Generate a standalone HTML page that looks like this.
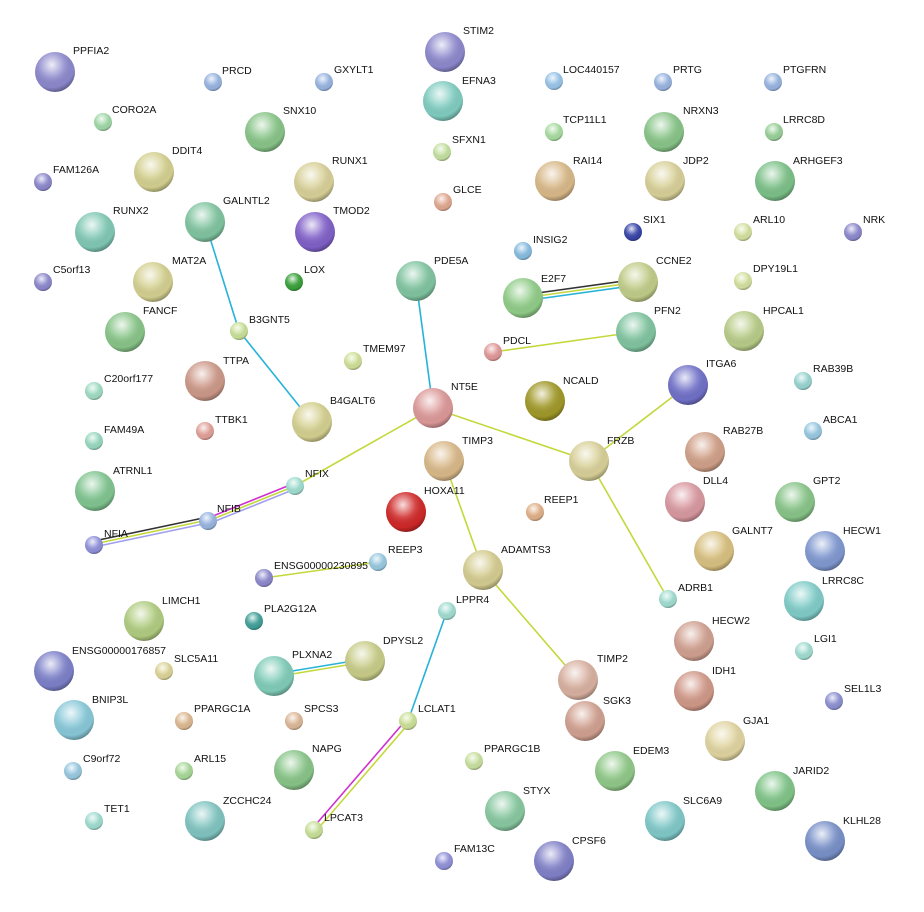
<!DOCTYPE html>
<html><head><meta charset="utf-8"><style>
html,body{margin:0;padding:0;background:#fff;}
svg text{font-family:"Liberation Sans",sans-serif;font-size:10.5px;fill:#111;}
</style></head><body>
<svg width="924" height="907" viewBox="0 0 924 907" xmlns="http://www.w3.org/2000/svg">
<defs>
<radialGradient id="s" cx="0.42" cy="0.32" r="0.7">
<stop offset="0" stop-color="#fff" stop-opacity="0.85"/>
<stop offset="0.45" stop-color="#fff" stop-opacity="0.15"/>
<stop offset="0.8" stop-color="#000" stop-opacity="0.02"/>
<stop offset="1" stop-color="#000" stop-opacity="0.35"/>
</radialGradient>
</defs>
<g fill="none" stroke-width="1.6">
<line x1="205" y1="222" x2="239" y2="331" stroke="#27b3d8"/>
<line x1="239" y1="331" x2="312" y2="422" stroke="#27b3d8"/>
<line x1="416" y1="281" x2="433" y2="408" stroke="#27b3d8"/>
<line x1="433" y1="408" x2="295" y2="486" stroke="#c4d83c"/>
<line x1="433" y1="408" x2="589" y2="461" stroke="#c4d83c"/>
<line x1="589" y1="461" x2="688" y2="385" stroke="#c4d83c"/>
<line x1="589" y1="461" x2="668" y2="599" stroke="#c4d83c"/>
<line x1="523" y1="295" x2="638" y2="279" stroke="#333"/>
<line x1="523" y1="298" x2="638" y2="282" stroke="#c4d83c"/>
<line x1="523" y1="301" x2="638" y2="285" stroke="#27b3d8"/>
<line x1="493" y1="352" x2="636" y2="332" stroke="#c4d83c"/>
<line x1="295" y1="483" x2="208" y2="518" stroke="#d030d0"/>
<line x1="295" y1="486" x2="208" y2="521" stroke="#c4d83c"/>
<line x1="295" y1="489" x2="208" y2="524" stroke="#a0a0f0"/>
<line x1="208" y1="517" x2="94" y2="541" stroke="#333"/>
<line x1="208" y1="520" x2="94" y2="544" stroke="#c4d83c"/>
<line x1="208" y1="523" x2="94" y2="547" stroke="#a0a0f0"/>
<line x1="444" y1="461" x2="483" y2="570" stroke="#c4d83c"/>
<line x1="483" y1="570" x2="578" y2="680" stroke="#c4d83c"/>
<line x1="264" y1="578" x2="378" y2="562" stroke="#c4d83c"/>
<line x1="447" y1="611" x2="408" y2="721" stroke="#27b3d8"/>
<line x1="406" y1="720" x2="312" y2="829" stroke="#d030d0"/>
<line x1="410" y1="722" x2="316" y2="831" stroke="#c4d83c"/>
<line x1="274" y1="674" x2="365" y2="659" stroke="#27b3d8"/>
<line x1="274" y1="677" x2="365" y2="662" stroke="#c4d83c"/>
</g>
<g id="nodes" stroke-width="0.6">
<!-- big r=20, small r=9 -->
<circle cx="55" cy="72" r="20" fill="#8c88cc"/><circle cx="55" cy="72" r="20" fill="url(#s)"/><text x="73" y="54">PPFIA2</text>
<circle cx="213" cy="82" r="9" fill="#98b4e0"/><circle cx="213" cy="82" r="9" fill="url(#s)"/><text x="222" y="74">PRCD</text>
<circle cx="324" cy="82" r="9" fill="#98b4e0"/><circle cx="324" cy="82" r="9" fill="url(#s)"/><text x="334" y="73">GXYLT1</text>
<circle cx="445" cy="52" r="20" fill="#8c88cc"/><circle cx="445" cy="52" r="20" fill="url(#s)"/><text x="463" y="34">STIM2</text>
<circle cx="443" cy="101" r="20" fill="#80ccc0"/><circle cx="443" cy="101" r="20" fill="url(#s)"/><text x="462" y="84">EFNA3</text>
<circle cx="554" cy="81" r="9" fill="#98c4e8"/><circle cx="554" cy="81" r="9" fill="url(#s)"/><text x="563" y="73">LOC440157</text>
<circle cx="663" cy="82" r="9" fill="#98b4e0"/><circle cx="663" cy="82" r="9" fill="url(#s)"/><text x="673" y="73">PRTG</text>
<circle cx="773" cy="82" r="9" fill="#98b4e0"/><circle cx="773" cy="82" r="9" fill="url(#s)"/><text x="783" y="73">PTGFRN</text>
<circle cx="103" cy="122" r="9" fill="#a0d8a8"/><circle cx="103" cy="122" r="9" fill="url(#s)"/><text x="112" y="113">CORO2A</text>
<circle cx="265" cy="132" r="20" fill="#88c488"/><circle cx="265" cy="132" r="20" fill="url(#s)"/><text x="283" y="114">SNX10</text>
<circle cx="554" cy="132" r="9" fill="#a8dca0"/><circle cx="554" cy="132" r="9" fill="url(#s)"/><text x="563" y="123">TCP11L1</text>
<circle cx="664" cy="132" r="20" fill="#88c488"/><circle cx="664" cy="132" r="20" fill="url(#s)"/><text x="683" y="114">NRXN3</text>
<circle cx="774" cy="132" r="9" fill="#98d098"/><circle cx="774" cy="132" r="9" fill="url(#s)"/><text x="783" y="123">LRRC8D</text>
<circle cx="154" cy="172" r="20" fill="#d4d090"/><circle cx="154" cy="172" r="20" fill="url(#s)"/><text x="172" y="154">DDIT4</text>
<circle cx="314" cy="182" r="20" fill="#d8d098"/><circle cx="314" cy="182" r="20" fill="url(#s)"/><text x="332" y="164">RUNX1</text>
<circle cx="442" cy="152" r="9" fill="#c4e0a0"/><circle cx="442" cy="152" r="9" fill="url(#s)"/><text x="452" y="143">SFXN1</text>
<circle cx="555" cy="181" r="20" fill="#d8b888"/><circle cx="555" cy="181" r="20" fill="url(#s)"/><text x="573" y="164">RAI14</text>
<circle cx="665" cy="181" r="20" fill="#d8d098"/><circle cx="665" cy="181" r="20" fill="url(#s)"/><text x="683" y="164">JDP2</text>
<circle cx="775" cy="181" r="20" fill="#7cc088"/><circle cx="775" cy="181" r="20" fill="url(#s)"/><text x="793" y="164">ARHGEF3</text>
<circle cx="43" cy="182" r="9" fill="#8c88cc"/><circle cx="43" cy="182" r="9" fill="url(#s)"/><text x="53" y="173">FAM126A</text>
<circle cx="443" cy="202" r="9" fill="#e0a890"/><circle cx="443" cy="202" r="9" fill="url(#s)"/><text x="453" y="193">GLCE</text>
<circle cx="315" cy="232" r="20" fill="#8060c8"/><circle cx="315" cy="232" r="20" fill="url(#s)"/><text x="333" y="214">TMOD2</text>
<circle cx="205" cy="222" r="20" fill="#80c4a0"/><circle cx="205" cy="222" r="20" fill="url(#s)"/><text x="223" y="204">GALNTL2</text>
<circle cx="95" cy="232" r="20" fill="#80c8b4"/><circle cx="95" cy="232" r="20" fill="url(#s)"/><text x="113" y="214">RUNX2</text>
<circle cx="633" cy="232" r="9" fill="#3844a8"/><circle cx="633" cy="232" r="9" fill="url(#s)"/><text x="643" y="223">SIX1</text>
<circle cx="743" cy="232" r="9" fill="#d4e0a0"/><circle cx="743" cy="232" r="9" fill="url(#s)"/><text x="753" y="223">ARL10</text>
<circle cx="853" cy="232" r="9" fill="#8c88cc"/><circle cx="853" cy="232" r="9" fill="url(#s)"/><text x="863" y="223">NRK</text>
<circle cx="523" cy="251" r="9" fill="#88bce0"/><circle cx="523" cy="251" r="9" fill="url(#s)"/><text x="533" y="243">INSIG2</text>
<circle cx="153" cy="282" r="20" fill="#d4d090"/><circle cx="153" cy="282" r="20" fill="url(#s)"/><text x="172" y="264">MAT2A</text>
<circle cx="294" cy="282" r="9" fill="#38a038"/><circle cx="294" cy="282" r="9" fill="url(#s)"/><text x="304" y="273">LOX</text>
<circle cx="43" cy="282" r="9" fill="#8c88cc"/><circle cx="43" cy="282" r="9" fill="url(#s)"/><text x="53" y="273">C5orf13</text>
<circle cx="416" cy="281" r="20" fill="#80c4a0"/><circle cx="416" cy="281" r="20" fill="url(#s)"/><text x="434" y="264">PDE5A</text>
<circle cx="523" cy="298" r="20" fill="#90cc88"/><circle cx="523" cy="298" r="20" fill="url(#s)"/><text x="541" y="282">E2F7</text>
<circle cx="638" cy="282" r="20" fill="#c0cc88"/><circle cx="638" cy="282" r="20" fill="url(#s)"/><text x="656" y="264">CCNE2</text>
<circle cx="743" cy="281" r="9" fill="#d4e0a0"/><circle cx="743" cy="281" r="9" fill="url(#s)"/><text x="753" y="272">DPY19L1</text>
<circle cx="125" cy="332" r="20" fill="#88c488"/><circle cx="125" cy="332" r="20" fill="url(#s)"/><text x="143" y="314">FANCF</text>
<circle cx="239" cy="331" r="9" fill="#c8e098"/><circle cx="239" cy="331" r="9" fill="url(#s)"/><text x="249" y="323">B3GNT5</text>
<circle cx="636" cy="332" r="20" fill="#80c4a0"/><circle cx="636" cy="332" r="20" fill="url(#s)"/><text x="654" y="314">PFN2</text>
<circle cx="744" cy="331" r="20" fill="#b8cc88"/><circle cx="744" cy="331" r="20" fill="url(#s)"/><text x="763" y="314">HPCAL1</text>
<circle cx="493" cy="352" r="9" fill="#e09898"/><circle cx="493" cy="352" r="9" fill="url(#s)"/><text x="503" y="344">PDCL</text>
<circle cx="353" cy="361" r="9" fill="#d0e098"/><circle cx="353" cy="361" r="9" fill="url(#s)"/><text x="363" y="352">TMEM97</text>
<circle cx="545" cy="401" r="20" fill="#a09828"/><circle cx="545" cy="401" r="20" fill="url(#s)"/><text x="563" y="384">NCALD</text>
<circle cx="205" cy="381" r="20" fill="#cc9888"/><circle cx="205" cy="381" r="20" fill="url(#s)"/><text x="223" y="364">TTPA</text>
<circle cx="94" cy="391" r="9" fill="#a0dcc4"/><circle cx="94" cy="391" r="9" fill="url(#s)"/><text x="104" y="382">C20orf177</text>
<circle cx="688" cy="385" r="20" fill="#7070c8"/><circle cx="688" cy="385" r="20" fill="url(#s)"/><text x="706" y="367">ITGA6</text>
<circle cx="803" cy="381" r="9" fill="#98d4d0"/><circle cx="803" cy="381" r="9" fill="url(#s)"/><text x="813" y="372">RAB39B</text>
<circle cx="433" cy="408" r="20" fill="#dc9898"/><circle cx="433" cy="408" r="20" fill="url(#s)"/><text x="451" y="390">NT5E</text>
<circle cx="312" cy="422" r="20" fill="#d4d090"/><circle cx="312" cy="422" r="20" fill="url(#s)"/><text x="330" y="404">B4GALT6</text>
<circle cx="205" cy="431" r="9" fill="#e0a098"/><circle cx="205" cy="431" r="9" fill="url(#s)"/><text x="215" y="423">TTBK1</text>
<circle cx="94" cy="441" r="9" fill="#98d8c0"/><circle cx="94" cy="441" r="9" fill="url(#s)"/><text x="104" y="433">FAM49A</text>
<circle cx="813" cy="431" r="9" fill="#98c8e0"/><circle cx="813" cy="431" r="9" fill="url(#s)"/><text x="823" y="423">ABCA1</text>
<circle cx="444" cy="461" r="20" fill="#d8b888"/><circle cx="444" cy="461" r="20" fill="url(#s)"/><text x="462" y="444">TIMP3</text>
<circle cx="589" cy="461" r="20" fill="#d8d098"/><circle cx="589" cy="461" r="20" fill="url(#s)"/><text x="607" y="444">FRZB</text>
<circle cx="705" cy="452" r="20" fill="#d0a088"/><circle cx="705" cy="452" r="20" fill="url(#s)"/><text x="723" y="434">RAB27B</text>
<circle cx="95" cy="491" r="20" fill="#80c490"/><circle cx="95" cy="491" r="20" fill="url(#s)"/><text x="113" y="474">ATRNL1</text>
<circle cx="295" cy="486" r="9" fill="#a0dcd0"/><circle cx="295" cy="486" r="9" fill="url(#s)"/><text x="305" y="477">NFIX</text>
<circle cx="406" cy="512" r="20" fill="#d02828"/><circle cx="406" cy="512" r="20" fill="url(#s)"/><text x="424" y="494">HOXA11</text>
<circle cx="685" cy="502" r="20" fill="#d898a0"/><circle cx="685" cy="502" r="20" fill="url(#s)"/><text x="703" y="484">DLL4</text>
<circle cx="795" cy="502" r="20" fill="#88c488"/><circle cx="795" cy="502" r="20" fill="url(#s)"/><text x="813" y="484">GPT2</text>
<circle cx="535" cy="512" r="9" fill="#e0b088"/><circle cx="535" cy="512" r="9" fill="url(#s)"/><text x="544" y="503">REEP1</text>
<circle cx="208" cy="521" r="9" fill="#98b4e0"/><circle cx="208" cy="521" r="9" fill="url(#s)"/><text x="217" y="512">NFIB</text>
<circle cx="94" cy="545" r="9" fill="#9090d8"/><circle cx="94" cy="545" r="9" fill="url(#s)"/><text x="104" y="537">NFIA</text>
<circle cx="714" cy="551" r="20" fill="#d8c080"/><circle cx="714" cy="551" r="20" fill="url(#s)"/><text x="732" y="534">GALNT7</text>
<circle cx="825" cy="551" r="20" fill="#8098d0"/><circle cx="825" cy="551" r="20" fill="url(#s)"/><text x="843" y="534">HECW1</text>
<circle cx="378" cy="562" r="9" fill="#98c8e0"/><circle cx="378" cy="562" r="9" fill="url(#s)"/><text x="388" y="553">REEP3</text>
<circle cx="264" cy="578" r="9" fill="#8c88cc"/><circle cx="264" cy="578" r="9" fill="url(#s)"/><text x="274" y="569">ENSG00000230895</text>
<circle cx="483" cy="570" r="20" fill="#d4cc90"/><circle cx="483" cy="570" r="20" fill="url(#s)"/><text x="501" y="553">ADAMTS3</text>
<circle cx="668" cy="599" r="9" fill="#a0dcd0"/><circle cx="668" cy="599" r="9" fill="url(#s)"/><text x="678" y="591">ADRB1</text>
<circle cx="804" cy="601" r="20" fill="#80ccc8"/><circle cx="804" cy="601" r="20" fill="url(#s)"/><text x="822" y="584">LRRC8C</text>
<circle cx="447" cy="611" r="9" fill="#a0dcd0"/><circle cx="447" cy="611" r="9" fill="url(#s)"/><text x="456" y="603">LPPR4</text>
<circle cx="144" cy="621" r="20" fill="#b0cc80"/><circle cx="144" cy="621" r="20" fill="url(#s)"/><text x="162" y="604">LIMCH1</text>
<circle cx="254" cy="621" r="9" fill="#40a098"/><circle cx="254" cy="621" r="9" fill="url(#s)"/><text x="264" y="612">PLA2G12A</text>
<circle cx="694" cy="641" r="20" fill="#d0a090"/><circle cx="694" cy="641" r="20" fill="url(#s)"/><text x="712" y="624">HECW2</text>
<circle cx="804" cy="651" r="9" fill="#a0dcd0"/><circle cx="804" cy="651" r="9" fill="url(#s)"/><text x="814" y="642">LGI1</text>
<circle cx="54" cy="671" r="20" fill="#7c80c8"/><circle cx="54" cy="671" r="20" fill="url(#s)"/><text x="72" y="654">ENSG00000176857</text>
<circle cx="164" cy="671" r="9" fill="#dcd498"/><circle cx="164" cy="671" r="9" fill="url(#s)"/><text x="174" y="662">SLC5A11</text>
<circle cx="274" cy="676" r="20" fill="#80ccb8"/><circle cx="274" cy="676" r="20" fill="url(#s)"/><text x="292" y="658">PLXNA2</text>
<circle cx="365" cy="661" r="20" fill="#c8cc88"/><circle cx="365" cy="661" r="20" fill="url(#s)"/><text x="383" y="644">DPYSL2</text>
<circle cx="578" cy="680" r="20" fill="#d8b0a0"/><circle cx="578" cy="680" r="20" fill="url(#s)"/><text x="597" y="662">TIMP2</text>
<circle cx="694" cy="691" r="20" fill="#d09888"/><circle cx="694" cy="691" r="20" fill="url(#s)"/><text x="712" y="674">IDH1</text>
<circle cx="834" cy="701" r="9" fill="#8c90d0"/><circle cx="834" cy="701" r="9" fill="url(#s)"/><text x="844" y="692">SEL1L3</text>
<circle cx="74" cy="720" r="20" fill="#88c8d8"/><circle cx="74" cy="720" r="20" fill="url(#s)"/><text x="92" y="703">BNIP3L</text>
<circle cx="184" cy="721" r="9" fill="#dcb890"/><circle cx="184" cy="721" r="9" fill="url(#s)"/><text x="194" y="712">PPARGC1A</text>
<circle cx="294" cy="721" r="9" fill="#dcb898"/><circle cx="294" cy="721" r="9" fill="url(#s)"/><text x="304" y="712">SPCS3</text>
<circle cx="408" cy="721" r="9" fill="#cce098"/><circle cx="408" cy="721" r="9" fill="url(#s)"/><text x="418" y="712">LCLAT1</text>
<circle cx="585" cy="721" r="20" fill="#d0a090"/><circle cx="585" cy="721" r="20" fill="url(#s)"/><text x="603" y="704">SGK3</text>
<circle cx="725" cy="741" r="20" fill="#e0d4a0"/><circle cx="725" cy="741" r="20" fill="url(#s)"/><text x="743" y="724">GJA1</text>
<circle cx="73" cy="771" r="9" fill="#98c8e0"/><circle cx="73" cy="771" r="9" fill="url(#s)"/><text x="83" y="762">C9orf72</text>
<circle cx="184" cy="771" r="9" fill="#a8d898"/><circle cx="184" cy="771" r="9" fill="url(#s)"/><text x="194" y="762">ARL15</text>
<circle cx="294" cy="770" r="20" fill="#88c488"/><circle cx="294" cy="770" r="20" fill="url(#s)"/><text x="312" y="752">NAPG</text>
<circle cx="474" cy="761" r="9" fill="#c8e0a0"/><circle cx="474" cy="761" r="9" fill="url(#s)"/><text x="484" y="752">PPARGC1B</text>
<circle cx="615" cy="771" r="20" fill="#90c888"/><circle cx="615" cy="771" r="20" fill="url(#s)"/><text x="633" y="754">EDEM3</text>
<circle cx="775" cy="791" r="20" fill="#80c488"/><circle cx="775" cy="791" r="20" fill="url(#s)"/><text x="793" y="774">JARID2</text>
<circle cx="94" cy="821" r="9" fill="#a0dcd0"/><circle cx="94" cy="821" r="9" fill="url(#s)"/><text x="104" y="812">TET1</text>
<circle cx="205" cy="821" r="20" fill="#80c4c0"/><circle cx="205" cy="821" r="20" fill="url(#s)"/><text x="223" y="804">ZCCHC24</text>
<circle cx="505" cy="811" r="20" fill="#88c8a0"/><circle cx="505" cy="811" r="20" fill="url(#s)"/><text x="523" y="794">STYX</text>
<circle cx="314" cy="830" r="9" fill="#c8e098"/><circle cx="314" cy="830" r="9" fill="url(#s)"/><text x="324" y="821">LPCAT3</text>
<circle cx="665" cy="821" r="20" fill="#80c8c8"/><circle cx="665" cy="821" r="20" fill="url(#s)"/><text x="683" y="804">SLC6A9</text>
<circle cx="825" cy="841" r="20" fill="#7890c8"/><circle cx="825" cy="841" r="20" fill="url(#s)"/><text x="843" y="824">KLHL28</text>
<circle cx="444" cy="861" r="9" fill="#9090d8"/><circle cx="444" cy="861" r="9" fill="url(#s)"/><text x="454" y="852">FAM13C</text>
<circle cx="554" cy="861" r="20" fill="#8080c8"/><circle cx="554" cy="861" r="20" fill="url(#s)"/><text x="572" y="844">CPSF6</text>
</g>
</svg>
</body></html>
